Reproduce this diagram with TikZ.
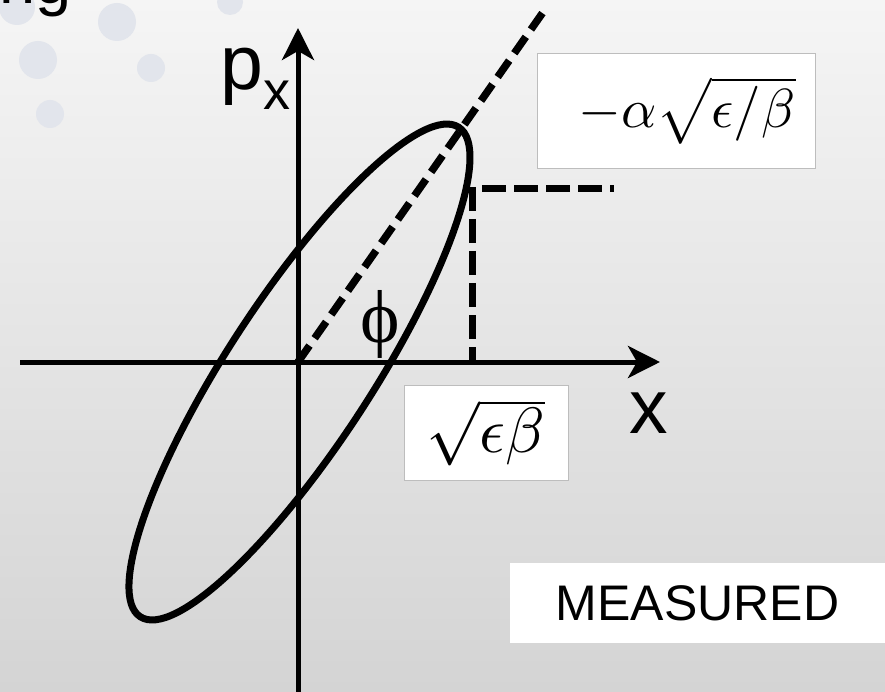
\documentclass[tikz,border=0pt]{standalone}
\usepackage{fontspec}
\setmainfont{Liberation Sans}
\newfontfamily\phifont{Liberation Serif}
\usepackage{amsmath}
\usepackage{graphicx}
\usepackage{xcolor}
\usetikzlibrary{arrows.meta, positioning, calc}

\definecolor{bgtop}{HTML}{F5F5F5}
\definecolor{bgbottom}{HTML}{D4D4D4}
\definecolor{dotgray}{HTML}{E2E5EC}
\definecolor{boxline}{HTML}{BDBDBD}

\begin{document}
\begin{tikzpicture}[
    x=1pt, y=-1pt,
    axis/.style={line width=5pt, -{Stealth[length=32pt, width=32pt, inset=9pt]}},
    orbit/.style={line width=7pt},
    guide/.style={line width=7pt, dash pattern=on 24pt off 8pt},
    diag/.style={line width=7.5pt, dash pattern=on 20pt off 9pt},
    labelbox/.style={rectangle, draw=boxline, line width=0.8pt, fill=white, inner sep=0pt},
    bigtext/.style={inner sep=0pt, font=\fontsize{77}{80}\selectfont},
    dot/.style={fill=dotgray},
]
    % Background
    \useasboundingbox (0,0) rectangle (885,692);
    \clip (0,0) rectangle (885,692);
    \shade[top color=bgtop, bottom color=bgbottom] (0,0) rectangle (885,692);

    % Decorative dots
    \foreach \cx/\cy/\r in {17/7/18, 117/22/19, 38/60/19, 151/68/14, 50/114/14, 230/2/13}
        \fill[dot] (\cx,\cy) circle[radius=\r pt];

    % Cut-off title
    \node[anchor=base west, inner sep=0pt, font=\fontsize{65}{70}\selectfont] (title) at (-1,4) {ng};

    % Phase-space ellipse
    \coordinate (C) at (299.5,372);
    \draw[orbit, rotate around={56.95:(C)}] (C) ellipse [x radius=292pt, y radius=72.6pt];

    % Axes
    \coordinate (O) at (298,362);
    \coordinate (xleft) at (20,362);
    \coordinate (xtip) at (660,362);
    \coordinate (pbottom) at (298,692);
    \coordinate (ptip) at (298,28);
    \draw[axis] (xleft) -- (xtip);
    \draw[axis] (pbottom) -- (ptip);

    % Dashed guides
    \coordinate (tiptop) at (546,8);
    \draw[diag] (O) -- (tiptop);
    \coordinate (xmax) at (472,362);
    \coordinate (corner) at (472,187);
    \coordinate (hstart) at (482,189);
    \coordinate (pmax) at (614,189);
    \draw[guide] (corner) -- (xmax);
    \draw[guide] (hstart) -- (pmax);

    % Value boxes
    \node[labelbox, minimum width=278pt, minimum height=115pt] (pbox) at (676,110.5)
        {\hspace*{22pt}\scalebox{5.5}{$-\alpha\sqrt{\epsilon/\beta}$}};
    \node[labelbox, minimum width=164pt, minimum height=95pt] (xbox) at (486,432.5)
        {\scalebox{6.4}{$\sqrt{\epsilon\beta}$}};
    \node[fill=white, inner sep=0pt, minimum width=375pt, minimum height=80pt,
          font=\fontsize{50}{54}\selectfont] (measured) at (697.5,603) {MEASURED};

    % Axis labels
    \node[bigtext, anchor=base west] (plabel) at (220,90)
        {p\raisebox{-20pt}{\fontsize{54}{54}\selectfont x}};
    \node[bigtext, anchor=base west] (xlabel) at (629,433) {x};
    \node[inner sep=0pt, anchor=base, font=\phifont\fontsize{75}{78}\selectfont] (phi) at (380,342) {ϕ};
\end{tikzpicture}
\end{document}
